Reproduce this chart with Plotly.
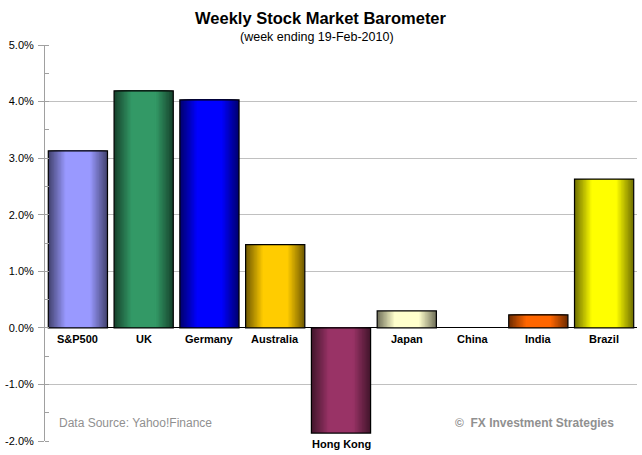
import plotly.graph_objects as go

markets = ["S&P500", "UK", "Germany", "Australia", "Hong Kong", "Japan", "China", "India", "Brazil"]
changes = [0.0313, 0.0419, 0.0403, 0.0147, -0.0186, 0.0030, 0.0, 0.0023, 0.0263]
center_colors = ["#9999FF", "#339966", "#0000FF", "#FFCC00", "#993366", "#FFFFCC", "#FFFFFF", "#FF6600", "#FFFF00"]
tick_vals = [0.05, 0.04, 0.03, 0.02, 0.01, 0.0, -0.01, -0.02]
tick_text = ["5.0%", "4.0%", "3.0%", "2.0%", "1.0%", "0.0%", "-1.0%", "-2.0%"]

FONT = "Arial, Liberation Sans, sans-serif"


def hex_to_rgb(h):
    h = h.lstrip("#")
    return tuple(int(h[i:i + 2], 16) for i in (0, 2, 4))


def shade(h, f):
    r, g, b = hex_to_rgb(h)
    return f"rgb({int(r * f)},{int(g * f)},{int(b * f)})"


fig = go.Figure()

BAR_W = 0.9
N = 14
for i in range(N):
    t = i / (N - 1)
    w = BAR_W * (1 - 0.62 * t)
    f = 0.45 + 0.55 * min(1.0, t * 1.1)
    fig.add_trace(go.Bar(
        x=markets, y=changes, width=w,
        marker=dict(color=[shade(c, f) for c in center_colors], line=dict(width=0)),
        showlegend=False, hoverinfo="skip",
    ))

# outline (none for zero-height bars)
fig.add_trace(go.Bar(
    x=markets, y=changes, width=BAR_W,
    marker=dict(color="rgba(0,0,0,0)",
                line=dict(color="black", width=[1.2 if v != 0 else 0 for v in changes])),
    showlegend=False,
    hovertemplate="%{x}: %{y:.2%}<extra></extra>",
))

# category labels
for m, v in zip(markets, changes):
    fig.add_annotation(x=m, y=min(v, 0), text=f"<b>{m}</b>", showarrow=False,
                       yanchor="top", yshift=-3,
                       font=dict(family=FONT, size=11, color="black"))

fig.add_annotation(xref="paper", yref="paper", x=0.466, y=1, yshift=27, yanchor="middle",
                   text="<b>Weekly Stock Market Barometer</b>", showarrow=False,
                   font=dict(family=FONT, size=16.5, color="black"))
fig.add_annotation(xref="paper", yref="paper", x=0.46, y=1, yshift=8, yanchor="middle",
                   text="(week ending 19-Feb-2010)", showarrow=False,
                   font=dict(family=FONT, size=12.5, color="black"))
fig.add_annotation(xref="paper", yref="paper", x=0.02, xanchor="left", y=0.045, yanchor="middle",
                   text="Data Source: Yahoo!Finance", showarrow=False,
                   font=dict(family=FONT, size=12, color="#909090"))
fig.add_annotation(xref="paper", yref="paper", x=0.965, xanchor="right", y=0.045, yanchor="middle",
                   text="<b>©  FX Investment Strategies</b>", showarrow=False,
                   font=dict(family=FONT, size=12, color="#909090"))

fig.update_layout(
    width=642, height=455,
    margin=dict(l=41, r=5, t=45, b=14),
    paper_bgcolor="white", plot_bgcolor="white",
    barmode="overlay",
    font=dict(family=FONT, size=11, color="black"),
    xaxis=dict(showticklabels=False, showgrid=False, showline=False, ticks="",
               range=[-0.5, 8.5], fixedrange=True),
    yaxis=dict(range=[-0.02, 0.05], tickvals=tick_vals, ticktext=tick_text,
               showgrid=True, gridcolor="#C0C0C0", gridwidth=1,
               zeroline=True, zerolinecolor="black", zerolinewidth=1,
               showline=True, linecolor="#A0A0A0", linewidth=1,
               ticks="outside", ticklen=6, tickcolor="#A0A0A0",
               minor=dict(dtick=0.005, tick0=0, ticks="inside", ticklen=4, tickcolor="#A0A0A0", showgrid=False),
               tickfont=dict(family=FONT, size=11, color="black"), ticklabelstandoff=2),
)

fig.write_html("out.html")
